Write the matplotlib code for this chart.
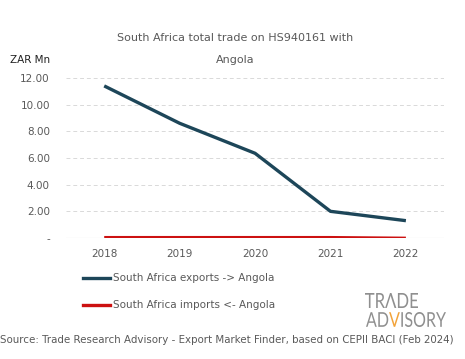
import numpy as np
import matplotlib.pyplot as plt
from matplotlib.lines import Line2D
from matplotlib.textpath import TextPath
from matplotlib.patches import PathPatch
from matplotlib.path import Path
from matplotlib.font_manager import FontProperties
from matplotlib.transforms import Affine2D, IdentityTransform

years = [2018, 2019, 2020, 2021, 2022]
exports = [11.4, 8.6, 6.35, 2.0, 1.3]
imports = [0.05, 0.05, 0.05, 0.05, 0.0]
yticks = [0, 2, 4, 6, 8, 10, 12]
ylabels = ["-", "2.00", "4.00", "6.00", "8.00", "10.00", "12.00"]

txt = "#595959"
fig = plt.figure(figsize=(4.65, 3.59), dpi=100)
ax = fig.add_axes([0.143, 0.337, 0.811, 0.446])

x = np.arange(len(years))
ax.plot(x, exports, color="#1d4659", lw=2.4, solid_capstyle="butt")
ax.plot(x, imports, color="#cc1111", lw=2.0, solid_capstyle="butt")

ax.set_xlim(-0.5, len(years) - 0.5)
ax.set_ylim(0, 12)
ax.set_yticks(yticks)
ax.set_yticklabels(ylabels)
ax.set_xticks(x)
ax.set_xticklabels([str(y) for y in years])
ax.tick_params(length=0, labelsize=7.5, colors=txt, pad=8)
ax.tick_params(axis="y", pad=12)
for t in yticks[1:]:
    ax.axhline(t, color="#d9d9d9", lw=0.7, ls=(0, (4, 3)), zorder=0)
ax.axhline(0, color="#d0d0d0", lw=0.8, zorder=0)
for s in ax.spines.values():
    s.set_visible(False)

fig.text(0.505, 0.893, "South Africa total trade on HS940161 with", ha="center",
         va="center", fontsize=8, color=txt)
fig.text(0.505, 0.833, "Angola", ha="center", va="center", fontsize=8, color=txt)
fig.text(0.022, 0.832, "ZAR Mn", ha="left", va="center", fontsize=7.5, color="#222222")

# legend
for yy, col, lab in [(0.226, "#1d4659", "South Africa exports -> Angola"),
                     (0.151, "#cc1111", "South Africa imports <- Angola")]:
    fig.add_artist(Line2D([0.178, 0.237], [yy, yy], color=col, lw=2.4,
                          transform=fig.transFigure))
    fig.text(0.243, yy, lab, ha="left", va="center", fontsize=7.5, color=txt)


# logo, squeezed into boxes (display pixels)
fp = FontProperties(family="Lato", weight="normal")
grey = "#8f8f8f"


def logo_word(word, box, orange=None):
    p = TextPath((0, 0), word, size=10, prop=fp)
    ext = p.get_extents()
    x0, y0, x1, y1 = box
    tr = Affine2D().translate(-ext.x0, -ext.y0).scale(
        (x1 - x0) / ext.width, (y1 - y0) / ext.height).translate(x0, y0)
    p = tr.transform_path(p)
    pieces = [(p, grey)]
    if orange is not None:
        n0 = len(TextPath((0, 0), word[:orange], size=10, prop=fp).vertices)
        n1 = len(TextPath((0, 0), word[:orange + 1], size=10, prop=fp).vertices)
        pieces = [(Path(p.vertices[:n0], p.codes[:n0]), grey),
                  (Path(p.vertices[n0:n1], p.codes[n0:n1]), "#f2a33a"),
                  (Path(p.vertices[n1:], p.codes[n1:]), grey)]
    for path, col in pieces:
        fig.add_artist(PathPatch(path, facecolor=col, edgecolor="none",
                                 transform=IdentityTransform()))


logo_word("TR\u039bDE", (365, 51, 418, 66))
logo_word("ADVISORY", (366, 32, 446, 47), orange=2)

fig.text(0.0, 0.052, "Source: Trade Research Advisory - Export Market Finder, based on CEPII BACI (Feb 2024)",
         ha="left", va="center", fontsize=7.4, color=txt)

fig.savefig("out.png", dpi=100)
